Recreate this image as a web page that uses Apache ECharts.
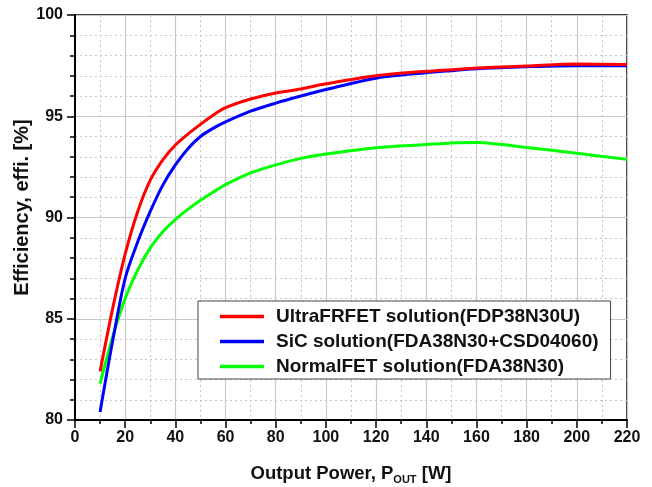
<!DOCTYPE html>
<html lang="en">
<head>
    <meta charset="UTF-8">
    <title>Efficiency vs Output Power</title>
    <script src="https://cdn.jsdelivr.net/npm/echarts@6/dist/echarts.min.js"></script>
    <style>
        body { margin: 0; background: #fff; }
        #main { width: 652px; height: 487px; }
    </style>
</head>
<body>
    <div id="main"></div>
    <script>
        // output power [W]
        const power = [10, 15, 20, 25, 30, 35, 40, 45, 50, 55, 60, 70, 80, 90, 100, 120, 140, 150, 160, 170, 180, 200, 220];

        // efficiency [%]
        const ultraFrfet = [82.4, 85.5, 88.2, 90.3, 91.85, 92.85, 93.58, 94.12, 94.6, 95.05, 95.42, 95.85, 96.15, 96.35, 96.6, 97.0, 97.22, 97.3, 97.38, 97.43, 97.48, 97.58, 97.56];
        const sicSolution = [80.4, 83.9, 87.0, 88.8, 90.3, 91.6, 92.6, 93.4, 94.0, 94.4, 94.72, 95.25, 95.65, 96.0, 96.32, 96.88, 97.15, 97.25, 97.34, 97.4, 97.45, 97.5, 97.5];
        const normalFet = [81.8, 84.1, 86.0, 87.4, 88.5, 89.3, 89.9, 90.4, 90.85, 91.25, 91.62, 92.2, 92.6, 92.92, 93.14, 93.45, 93.6, 93.68, 93.7, 93.6, 93.46, 93.17, 92.87];

        const seriesNames = [
            'UltraFRFET solution(FDP38N30U)',
            'SiC solution(FDA38N30+CSD04060)',
            'NormalFET solution(FDA38N30)'
        ];
        const seriesColors = ['#ff0000', '#0000ff', '#00ff00'];

        const pair = arr => power.map((p, i) => [p, arr[i]]);

        var chart = echarts.init(document.getElementById('main'));

        var font = 'Arial, "Liberation Sans", sans-serif';

        var option = {
            backgroundColor: '#fff',
            animation: false,
            textStyle: { fontFamily: font },
            grid: {
                left: 75, right: 25, top: 15, bottom: 67,
                outerBoundsMode: 'none',
                show: true,
                borderColor: '#000',
                borderWidth: 1.5
            },
            legend: {
                orient: 'vertical',
                left: 198,
                top: 301,
                data: seriesNames,
                icon: 'rect',
                itemWidth: 44,
                itemHeight: 3.5,
                itemGap: 6,
                padding: [6, 12, 3, 22],
                borderColor: '#444',
                borderWidth: 1,
                backgroundColor: '#fff',
                textStyle: {
                    fontFamily: font,
                    fontWeight: 'bold',
                    fontSize: 19,
                    lineHeight: 19,
                    color: '#111',
                    padding: [0, 0, 0, 7]
                }
            },
            xAxis: {
                type: 'value',
                min: 0, max: 220, interval: 20,
                name: '{a|Output Power, P}{s|OUT}{a| [W]}',
                nameLocation: 'middle',
                nameGap: 43,
                nameMoveOverlap: false,
                nameTextStyle: {
                    rich: {
                        a: { fontFamily: font, fontWeight: 'bold', fontSize: 18.5, color: '#111' },
                        s: { fontFamily: font, fontWeight: 'bold', fontSize: 11, color: '#111', padding: [11, 0, 0, 0] }
                    }
                },
                axisLine: { onZero: false, lineStyle: { color: '#000', width: 2 } },
                axisTick: { inside: false, length: 8, lineStyle: { color: '#000', width: 1.5 } },
                minorTick: { show: true, splitNumber: 2, length: 4, lineStyle: { color: '#000', width: 1.5 } },
                axisLabel: { fontFamily: font, fontWeight: 'bold', fontSize: 16, color: '#111', margin: 10 },
                splitLine: { show: true, lineStyle: { color: '#c8c8c8', width: 1.2 } },
                minorSplitLine: { show: true, lineStyle: { color: '#c4c4c4', type: [2, 3], width: 1 } }
            },
            yAxis: {
                type: 'value',
                min: 80, max: 100, interval: 5,
                name: 'Efficiency, effi. [%]',
                nameLocation: 'middle',
                nameGap: 43,
                nameMoveOverlap: false,
                nameTextStyle: { fontFamily: font, fontWeight: 'bold', fontSize: 20, color: '#111', padding: [0, 0, 0, 20] },
                axisLine: { onZero: false, lineStyle: { color: '#000', width: 2 } },
                axisTick: { inside: false, length: 8, lineStyle: { color: '#000', width: 1.5 } },
                minorTick: { show: true, splitNumber: 5, length: 5, lineStyle: { color: '#000', width: 1.5 } },
                axisLabel: { fontFamily: font, fontWeight: 'bold', fontSize: 16, color: '#111', margin: 12 },
                splitLine: { show: true, lineStyle: { color: '#c8c8c8', width: 1.2 } },
                minorSplitLine: { show: true, lineStyle: { color: '#c4c4c4', type: [2, 3], width: 1 } }
            },
            series: [ultraFrfet, sicSolution, normalFet].map((arr, i) => ({
                name: seriesNames[i],
                type: 'line',
                data: pair(arr),
                smooth: 0.3,
                symbol: 'none',
                color: seriesColors[i],
                lineStyle: { color: seriesColors[i], width: 3 },
                z: 5 - i
            }))
        };

        chart.setOption(option);
    </script>
</body>
</html>
